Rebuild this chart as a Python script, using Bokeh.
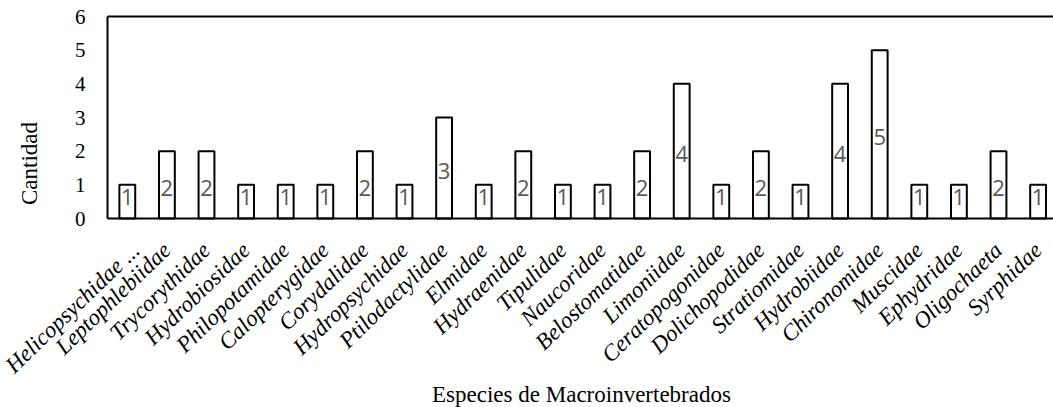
import numpy as np
from math import radians, pi
from bokeh.plotting import figure
from bokeh.models import (ColumnDataSource, Range1d, FixedTicker, CustomJSTickFormatter,
                          Label)
from bokeh.core.properties import value
from bokeh.embed import file_html
from bokeh.resources import INLINE

categories = ["Helicopsychidae ...", "Leptophlebiidae", "Trycorythidae", "Hydrobiosidae",
              "Philopotamidae", "Calopterygidae", "Corydalidae", "Hydropsychidae",
              "Ptilodactylidae", "Elmidae", "Hydraenidae", "Tipulidae", "Naucoridae",
              "Belostomatidae", "Limoniidae", "Ceratopogonidae", "Dolichopodidae",
              "Stratiomidae", "Hydrobiidae", "Chironomidae", "Muscidae", "Ephydridae",
              "Oligochaeta", "Syrphidae"]
counts = [1, 2, 2, 1, 1, 1, 2, 1, 3, 1, 2, 1, 1, 2, 4, 1, 2, 1, 4, 5, 1, 1, 2, 1]
y_ticks = [0, 1, 2, 3, 4, 5, 6]
x_title = "Especies de Macroinvertebrados"
y_title = "Cantidad"

n = len(categories)
xs = np.arange(n) + 0.5
label_y = [max(c / 2 - 0.09, 0.65) for c in counts]
src = ColumnDataSource(dict(x=xs, top=counts, cat=categories,
                            txt=[str(c) for c in counts], ly=label_y))

# layout in pixels (page == canvas)
W, H = 1053, 407
axis_left_px, axis_top_px, axis_bottom_px = 107, 16, 218
px_per_cat = 39.6
px_per_unit = (axis_bottom_px - axis_top_px) / y_ticks[-1]
x_start = -axis_left_px / px_per_cat
x_end = (W - axis_left_px) / px_per_cat
y_start = -(H - axis_bottom_px) / px_per_unit
y_end = y_ticks[-1] + axis_top_px / px_per_unit

p = figure(width=W, height=H, output_backend="svg", toolbar_location=None,
           x_range=Range1d(x_start, x_end), y_range=Range1d(y_start, y_end),
           min_border=0)
p.outline_line_color = None
p.xgrid.visible = False
p.ygrid.visible = False
p.background_fill_color = "white"
p.border_fill_color = "white"

p.vbar(x="x", top="top", width=0.4, source=src, fill_color="white",
       line_color="black", line_width=2)
p.text(x="x", y="ly", text="txt", source=src, text_align="center",
       text_baseline="middle", text_font=value("Open Sans"),
       text_font_size="22px", text_color="#595959")

# top border of the plot area
p.segment(x0=[0], y0=[y_ticks[-1]], x1=[x_end], y1=[y_ticks[-1]],
          line_color="black", line_width=2)

ya = p.yaxis[0]
ya.fixed_location = 0
ya.bounds = (y_ticks[0], y_ticks[-1])
ya.ticker = FixedTicker(ticks=y_ticks)
ya.major_tick_line_color = None
ya.minor_tick_line_color = None
ya.axis_line_color = "black"
ya.axis_line_width = 2
ya.major_label_text_font = "Liberation Serif"
ya.major_label_text_font_size = "21px"
ya.major_label_text_color = "black"
ya.major_label_standoff = 16

xa = p.xaxis[0]
xa.fixed_location = 0
xa.bounds = (0, x_end)
xa.ticker = FixedTicker(ticks=list(xs))
xa.formatter = CustomJSTickFormatter(args=dict(labels=categories),
                                     code="return labels[Math.floor(tick)] || ''")
xa.major_tick_line_color = None
xa.minor_tick_line_color = None
xa.axis_line_color = "black"
xa.axis_line_width = 2
xa.major_label_orientation = radians(44)
xa.major_label_text_font = "Liberation Serif"
xa.major_label_text_font_style = "italic"
xa.major_label_text_font_size = "23px"
xa.major_label_text_color = "black"
xa.major_label_standoff = 22

p.add_layout(Label(x=29, y=H - 163, x_units="screen", y_units="screen", text=y_title,
                   angle=pi / 2, text_align="center", text_baseline="alphabetic",
                   text_font="Liberation Serif", text_font_size="23px",
                   text_color="black"))
p.add_layout(Label(x=581, y=H - 394, x_units="screen", y_units="screen", text=x_title,
                   text_align="center", text_baseline="alphabetic",
                   text_font="Liberation Serif", text_font_size="23px",
                   text_color="black"))

open("out.html", "w").write(file_html(p, INLINE))
